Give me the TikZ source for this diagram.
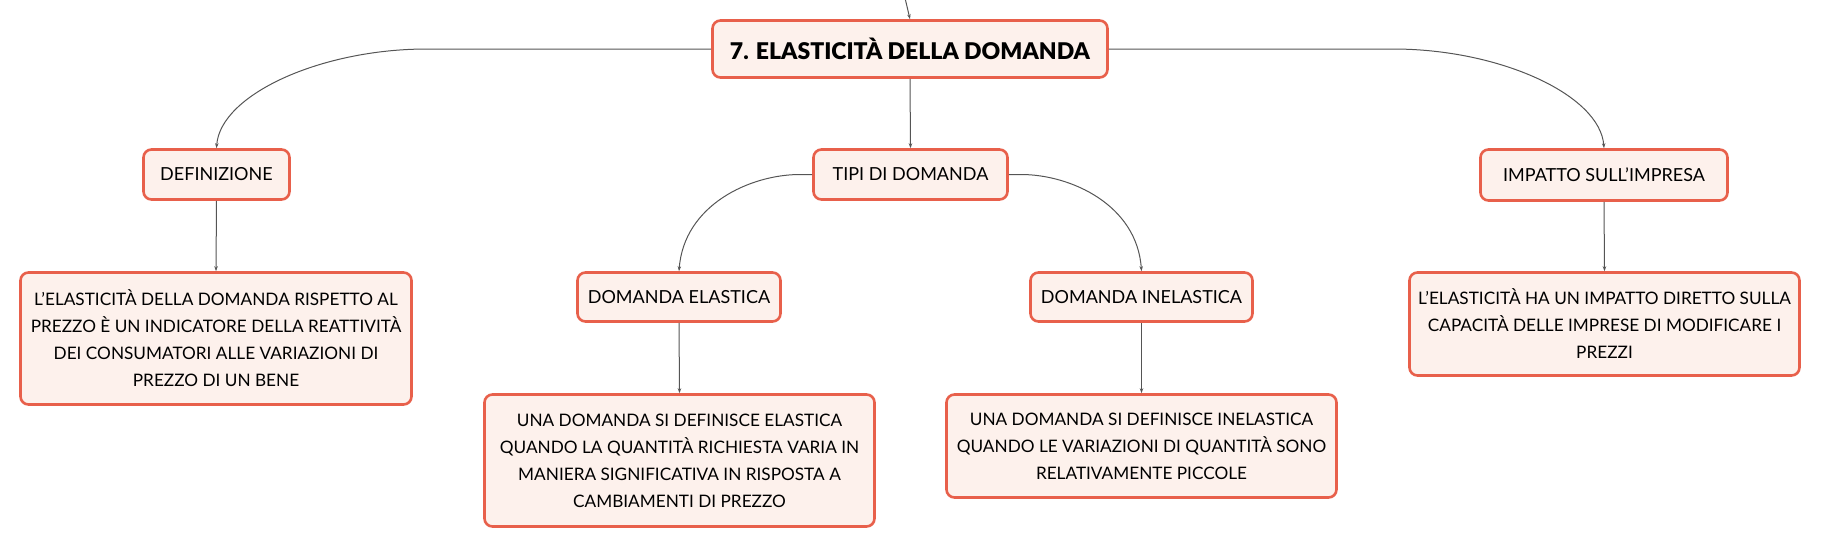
\documentclass[tikz,border=0pt]{standalone}
\usepackage{fontspec}
\setmainfont{Lato}
\newfontfamily\titlefont{Lato Black}
\usetikzlibrary{arrows.meta}
\definecolor{bordc}{HTML}{E8604B}
\definecolor{fillc}{HTML}{FDF1EC}
\definecolor{linec}{HTML}{555555}
\tikzset{
  box/.style={draw=bordc, line width=2.6pt, fill=fillc, rounded corners=8pt, align=center, inner sep=0pt, text=black, font=\fontsize{17.2}{27}\selectfont},
  lbl/.style={box, font=\fontsize{18}{27}\selectfont},
  conn/.style={draw=linec, line width=1pt, -{Stealth[length=5pt,width=3.5pt]}},
}
\begin{document}
\begin{tikzpicture}[x=1pt,y=-1pt]
\useasboundingbox (0,0) rectangle (1821,549);
\node[box, minimum width=395, minimum height=57, font=\fontsize{23}{26}\titlefont] (title) at (910,49) {7. ELASTICITÀ DELLA DOMANDA};
\node[lbl, minimum width=194, minimum height=50] (tipi) at (910.5,174.5) {TIPI DI DOMANDA};
\node[lbl, minimum width=146, minimum height=50] (def) at (216.5,174.5) {DEFINIZIONE};
\node[lbl, minimum width=247, minimum height=51] (imp) at (1604,175) {IMPATTO SULL'IMPRESA};
\node[box, minimum width=391, minimum height=132] (defT) at (216,338.5) {L'ELASTICITÀ DELLA DOMANDA RISPETTO AL\\PREZZO È UN INDICATORE DELLA REATTIVITÀ\\DEI CONSUMATORI ALLE VARIAZIONI DI\\PREZZO DI UN BENE};
\node[lbl, minimum width=203, minimum height=49] (el) at (679,297) {DOMANDA ELASTICA};
\node[box, minimum width=390, minimum height=132] (elT) at (679.5,460.5) {UNA DOMANDA SI DEFINISCE ELASTICA\\QUANDO LA QUANTITÀ RICHIESTA VARIA IN\\MANIERA SIGNIFICATIVA IN RISPOSTA A\\CAMBIAMENTI DI PREZZO};
\node[lbl, minimum width=222, minimum height=49] (inel) at (1141.5,297) {DOMANDA INELASTICA};
\node[box, minimum width=390, minimum height=103] (inelT) at (1141.5,446) {UNA DOMANDA SI DEFINISCE INELASTICA\\QUANDO LE VARIAZIONI DI QUANTITÀ SONO\\RELATIVAMENTE PICCOLE};
\node[box, minimum width=390, minimum height=103] (impT) at (1604.5,324) {L'ELASTICITÀ HA UN IMPATTO DIRETTO SULLA\\CAPACITÀ DELLE IMPRESE DI MODIFICARE I\\PREZZI};
\coordinate (top) at (905,-2);
\coordinate (lj) at (427,49);
\coordinate (rj) at (1393,49);
\coordinate (tl) at (800,174.5);
\coordinate (tr) at (1021,174.5);
\draw[conn] (top) -- (title.north);
\draw[conn] (title.west) -- (lj) .. controls (320,49) and (220,95) .. (def.north);
\draw[conn] (title.east) -- (rj) .. controls (1500,49) and (1600,95) .. (imp.north);
\draw[conn] (title.south) -- (tipi.north);
\draw[conn] (tipi.west) -- (tl) .. controls (750,174.5) and (684,205) .. (el.north);
\draw[conn] (tipi.east) -- (tr) .. controls (1071,174.5) and (1137,205) .. (inel.north);
\draw[conn] (def.south) -- (defT.north);
\draw[conn] (el.south) -- (elT.north);
\draw[conn] (inel.south) -- (inelT.north);
\draw[conn] (imp.south) -- (impT.north);
\end{tikzpicture}
\end{document}
